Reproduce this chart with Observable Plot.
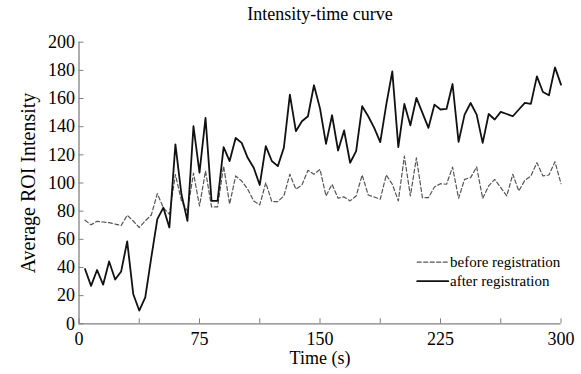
<!DOCTYPE html>
<html><head><meta charset="utf-8">
<script src="https://cdn.jsdelivr.net/npm/d3@7"></script>
<script src="https://cdn.jsdelivr.net/npm/@observablehq/plot@0.6"></script>
<style>
body{margin:0;background:#fff}
#chart svg, #chart svg text{font-family:"Liberation Serif","Times New Roman",serif !important;font-variant:normal !important}
</style>
</head><body><div id="chart"></div>
<script>
const time = [3.75,7.5,11.25,15,18.75,22.5,26.25,30,33.75,37.5,41.25,45,48.75,52.5,56.25,60,63.75,67.5,71.25,75,78.75,82.5,86.25,90,93.75,97.5,101.25,105,108.75,112.5,116.25,120,123.75,127.5,131.25,135,138.75,142.5,146.25,150,153.75,157.5,161.25,165,168.75,172.5,176.25,180,183.75,187.5,191.25,195,198.75,202.5,206.25,210,213.75,217.5,221.25,225,228.75,232.5,236.25,240,243.75,247.5,251.25,255,258.75,262.5,266.25,270,273.75,277.5,281.25,285,288.75,292.5,296.25,300];
const before = [73.6,70.3,72.8,72.3,71.8,70.8,69.8,77.1,73,68.4,73.1,77.3,92.4,82.5,77.8,106,87.3,80,107,83.7,108.5,83,83,112,85,105,101.4,95.6,87.3,84.4,100.2,86.8,86.8,90.8,106.2,95.6,98.6,109,106.2,109.7,90.8,99.1,89.2,90.1,87.3,90.8,105.7,91.5,90.1,88.5,105.7,99.1,87.3,119.1,90.8,117.9,89.6,89.6,97.2,99.5,99.1,111.3,89.2,102.6,103.8,111.5,89,97.9,102.6,96.7,90.8,106.2,94.3,101.9,105,114.4,105,105.7,115.1,99.5];
const after = [38.9,26.9,38.2,27.8,44.3,31.4,37.2,58.5,21.2,9.4,18.8,47.1,74.3,82.5,68.4,127.4,92,73.1,140.3,107.3,146.2,87.3,87.3,125.5,115.6,132,128.5,117.9,110.8,98.6,126.2,115.6,112,125,162.8,136.8,143.9,147.4,169.4,153,127.8,148.1,123.1,137.3,114.4,122.6,154.5,147.4,139.2,129,155.7,179.3,125.5,156.1,141,160.4,149.8,139.2,155.7,152.2,152.6,170.3,129.2,148.6,156.8,148.6,128.5,149,145.1,150.5,149,147.4,152.2,156.9,156.2,175.7,164.6,162.3,182.1,169.9];
const seriesNames = ["before registration", "after registration"];
const xLabelTicks = [0, 75, 150, 225, 300];
const xMinorTicks = [0, 37.5, 75, 112.5, 150, 187.5, 225, 262.5, 300];
const yTicks = [0, 20, 40, 60, 80, 100, 120, 140, 160, 180, 200];
const titleText = "Intensity-time curve";
const xTitle = "Time (s)";
const yTitle = "Average ROI Intensity";

const rows = [];
time.forEach((t, i) => {
  rows.push({time: t, value: before[i], series: seriesNames[0]});
  rows.push({time: t, value: after[i], series: seriesNames[1]});
});

const serif = "Liberation Serif";
const axisGray = "#808080";
const lineShape = {draw(ctx, l) { ctx.moveTo(0, 0); ctx.lineTo(0, -l); }};

const chart = Plot.plot({
  width: 581,
  height: 374,
  marginLeft: 78.5,
  marginRight: 20.5,
  marginTop: 41.7,
  marginBottom: 50.7,
  style: {fontFamily: serif, fontSize: "18px", background: "#fff", color: "#000", overflow: "visible"},
  x: {domain: [0, 300]},
  y: {domain: [0, 200]},
  marks: [
    Plot.ruleX([0], {stroke: axisGray, strokeWidth: 1.3}),
    Plot.ruleY([0], {stroke: axisGray, strokeWidth: 1.3}),
    Plot.axisY(yTicks, {tickSize: -5, tickPadding: 9, stroke: axisGray, fill: "#000", fontSize: 18, fontFamily: serif, label: null, tickFormat: d => String(d)}),
    Plot.axisX(xMinorTicks, {tickSize: -5, stroke: axisGray, tickFormat: () => "", label: null}),
    Plot.axisX(xLabelTicks, {tickSize: 0, tickPadding: 8, fill: "#000", fontSize: 18, fontFamily: serif, label: null, tickFormat: d => String(d)}),
    Plot.line(rows.filter(d => d.series === seriesNames[0]), {x: "time", y: "value", stroke: "#555", strokeWidth: 1.2, strokeDasharray: "4,2.5"}),
    Plot.line(rows.filter(d => d.series === seriesNames[1]), {x: "time", y: "value", stroke: "#111", strokeWidth: 1.8}),
    Plot.text([titleText], {frameAnchor: "top", dy: -27.5, text: d => d, lineAnchor: "middle", fontSize: 18, fontFamily: serif}),
    Plot.text([xTitle], {frameAnchor: "bottom", dy: 34, text: d => d, lineAnchor: "middle", fontSize: 18, fontFamily: serif}),
    Plot.text([yTitle], {frameAnchor: "left", dx: -50.5, rotate: -90, text: d => d, lineAnchor: "middle", textAnchor: "middle", fontSize: 20, fontFamily: serif}),
    Plot.vector([seriesNames[0]], {frameAnchor: "bottom-right", dx: -143.8, dy: -61.6, rotate: 90, length: 31, anchor: "start", shape: lineShape, stroke: "#555", strokeWidth: 1.2, strokeDasharray: "4,2.5"}),
    Plot.vector([seriesNames[1]], {frameAnchor: "bottom-right", dx: -143.8, dy: -42.6, rotate: 90, length: 31, anchor: "start", shape: lineShape, stroke: "#111", strokeWidth: 1.8}),
    Plot.text([seriesNames[0]], {frameAnchor: "bottom-right", dx: -111, dy: -61.6, text: d => d, textAnchor: "start", lineAnchor: "middle", fontSize: 15, fontFamily: serif}),
    Plot.text([seriesNames[1]], {frameAnchor: "bottom-right", dx: -111, dy: -42.6, text: d => d, textAnchor: "start", lineAnchor: "middle", fontSize: 15, fontFamily: serif})
  ]
});
document.getElementById("chart").appendChild(chart);
</script>
</body></html>
